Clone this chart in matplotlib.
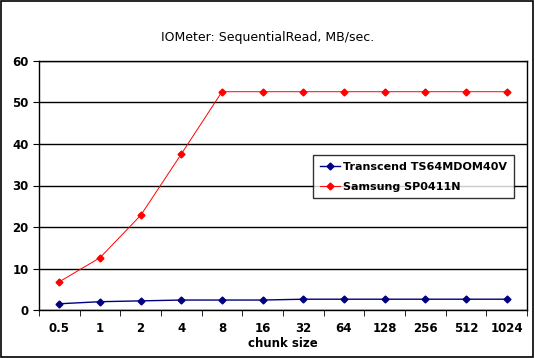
import matplotlib.pyplot as plt
from matplotlib.patches import Rectangle

chunk_sizes = ['0.5', '1', '2', '4', '8', '16', '32', '64', '128', '256', '512', '1024']
transcend = [1.5, 2.0, 2.2, 2.4, 2.4, 2.4, 2.6, 2.6, 2.6, 2.6, 2.6, 2.6]
samsung = [6.8, 12.6, 22.8, 37.6, 52.6, 52.6, 52.6, 52.6, 52.6, 52.6, 52.6, 52.6]

plt.rcParams['font.family'] = 'DejaVu Sans'

fig = plt.figure(figsize=(5.35, 3.58), dpi=100)
fig.patches.append(Rectangle((0.002, 0.003), 0.995, 0.994, transform=fig.transFigure,
                             fill=False, edgecolor='black', linewidth=1.2))

ax = fig.add_axes([39 / 535, 48 / 358, 488 / 535, 249 / 358])
x = range(len(chunk_sizes))
ax.plot(x, transcend, color='#000080', marker='D', markersize=3.5, linewidth=1,
        label='Transcend TS64MDOM40V')
ax.plot(x, samsung, color='#ff0000', marker='D', markersize=3.5, linewidth=0.7,
        label='Samsung SP0411N')

ax.set_xlim(-0.5, len(chunk_sizes) - 0.5)
ax.set_ylim(0, 60)
ax.set_yticks(range(0, 61, 10))
ax.yaxis.grid(True, color='black', linewidth=1)
ax.set_axisbelow(True)
ax.set_xticks(x)
ax.set_xticklabels(chunk_sizes, fontsize=8.5, fontweight='bold')
ax.set_xticks([i - 0.5 for i in range(len(chunk_sizes) + 1)], minor=True)
ax.tick_params(axis='x', which='major', length=0, pad=9)
ax.tick_params(axis='x', which='minor', length=4, direction='out')
ax.tick_params(axis='y', length=4, labelsize=8.5)
for lbl in ax.get_yticklabels():
    lbl.set_fontweight('bold')
for s in ax.spines.values():
    s.set_linewidth(1)
ax.set_xlabel('chunk size', fontsize=8.5, fontweight='bold', labelpad=1)

fig.text(0.5, 1 - 38 / 358, 'IOMeter: SequentialRead, MB/sec.', fontsize=9,
         ha='center', va='center')

leg = ax.legend(loc='upper left', bbox_to_anchor=(313 / 535, 1 - 155 / 358),
                bbox_transform=fig.transFigure, frameon=True, fancybox=False,
                prop={'weight': 'bold', 'size': 8}, borderpad=0.6, borderaxespad=0,
                handlelength=1.8, handletextpad=0.3, labelspacing=0.9)
leg.get_frame().set_edgecolor('black')
leg.get_frame().set_linewidth(1)

fig.savefig('out.png', dpi=100)
